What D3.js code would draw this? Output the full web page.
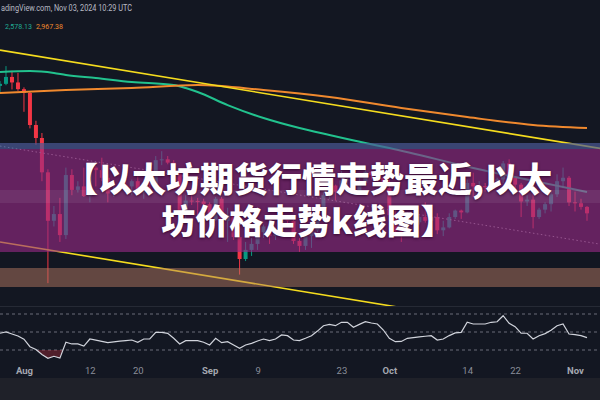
<!DOCTYPE html>
<html><head><meta charset="utf-8">
<script src="https://cdn.jsdelivr.net/npm/d3@7"></script>
<style>html,body{margin:0;padding:0;background:#131722;overflow:hidden}
body{position:relative;width:600px;height:400px}
#c{position:absolute;left:0;top:0}</style>
</head><body><svg id="c" width="600" height="400"></svg>
<script>
// ---------- data ----------
const candleDates = [
"2024-07-28","2024-07-29","2024-07-30","2024-07-31",
"2024-08-01","2024-08-02","2024-08-03","2024-08-04","2024-08-05","2024-08-06","2024-08-07","2024-08-08","2024-08-09","2024-08-10",
"2024-08-11","2024-08-12","2024-08-13","2024-08-14","2024-08-15","2024-08-16","2024-08-17","2024-08-18","2024-08-19","2024-08-20",
"2024-08-21","2024-08-22","2024-08-23","2024-08-24","2024-08-25","2024-08-26","2024-08-27","2024-08-28","2024-08-29","2024-08-30","2024-08-31",
"2024-09-01","2024-09-02","2024-09-03","2024-09-04","2024-09-05","2024-09-06","2024-09-07","2024-09-08","2024-09-09","2024-09-10",
"2024-09-11","2024-09-12","2024-09-13","2024-09-14","2024-09-15","2024-09-16","2024-09-17","2024-09-18","2024-09-19","2024-09-20",
"2024-09-21","2024-09-22","2024-09-23","2024-09-24","2024-09-25","2024-09-26","2024-09-27","2024-09-28","2024-09-29","2024-09-30",
"2024-10-01","2024-10-02","2024-10-03","2024-10-04","2024-10-05","2024-10-06","2024-10-07","2024-10-08","2024-10-09","2024-10-10",
"2024-10-11","2024-10-12","2024-10-13","2024-10-14","2024-10-15","2024-10-16","2024-10-17","2024-10-18","2024-10-19","2024-10-20",
"2024-10-21","2024-10-22","2024-10-23","2024-10-24","2024-10-25","2024-10-26","2024-10-27","2024-10-28","2024-10-29","2024-10-30","2024-10-31",
"2024-11-01","2024-11-02","2024-11-03"];
const opens = [3255,3270,3320,3280, 3232,3205,2987,2903,2692,2420,2456,2345,2676,2590, 2610,2555,2720,2705,2660,2570,2590,2615,2610,2640,
 2575,2630,2620,2765,2770,2750,2685,2460,2530,2528,2525, 2510,2425,2540,2420,2450,2335,2225,2270,2300,2360, 2390,2340,2360,2440,2420,2315,2290,2340,2370,2460,
 2560,2615,2580,2645,2650,2580,2630,2695,2675,2660, 2600,2450,2365,2350,2415,2412,2440,2420,2440,2370, 2385,2440,2475,2465,2630,2610,2612,2605,2645,2650,
 2745,2665,2620,2525,2535,2440,2480,2510,2565,2640,2660, 2520,2515,2495];
const highs = [3290,3400,3365,3350, 3245,3215,3015,2935,2710,2500,2545,2720,2710,2640, 2720,2740,2730,2780,2680,2620,2630,2690,2650,2690,
 2650,2645,2790,2820,2790,2765,2710,2560,2600,2545,2540, 2520,2550,2550,2490,2460,2390,2310,2330,2380,2400, 2395,2385,2460,2450,2430,2330,2390,2380,2480,2580,
 2620,2620,2700,2670,2670,2660,2725,2700,2680,2670, 2650,2500,2400,2420,2430,2450,2520,2470,2460,2420, 2460,2480,2480,2650,2690,2640,2630,2650,2660,2760,
 2770,2670,2630,2560,2570,2490,2520,2580,2680,2720,2670, 2580,2540,2500];
const lows = [3205,3260,3230,3220, 3075,2965,2860,2640,2110,2390,2310,2325,2560,2575, 2550,2520,2610,2640,2520,2550,2580,2605,2560,2560,
 2540,2590,2615,2735,2740,2670,2400,2420,2505,2440,2500, 2400,2420,2410,2310,2320,2150,2215,2240,2270,2330, 2300,2320,2350,2390,2300,2260,2270,2280,2360,2450,
 2540,2530,2570,2590,2570,2560,2620,2650,2640,2580, 2420,2350,2310,2340,2400,2400,2410,2400,2350,2340, 2380,2430,2430,2460,2550,2580,2580,2600,2630,2630,
 2640,2600,2440,2500,2380,2430,2460,2470,2550,2600,2500, 2470,2480,2420];
const closes = [3270,3320,3280,3232, 3205,2987,2903,2692,2420,2456,2345,2676,2590,2610, 2555,2720,2705,2660,2570,2590,2615,2610,2640,2575,
 2630,2620,2765,2770,2750,2685,2460,2530,2528,2525,2510, 2425,2540,2420,2450,2335,2225,2270,2300,2360,2390, 2340,2360,2440,2420,2315,2290,2340,2370,2460,2560,
 2615,2580,2645,2650,2580,2630,2695,2675,2660,2600, 2450,2365,2350,2415,2412,2440,2420,2440,2370,2385, 2440,2475,2465,2630,2610,2612,2605,2645,2650,2745,
 2665,2620,2525,2535,2440,2480,2510,2565,2640,2660,2520, 2515,2495,2460];

const greenMaDates  = ["2024-07-28","2024-08-02","2024-08-06","2024-08-08","2024-08-13","2024-08-19","2024-08-26","2024-08-28","2024-08-30","2024-09-04","2024-09-10","2024-09-16","2024-09-21","2024-09-27","2024-10-01","2024-10-15","2024-11-03"];
const greenMaValues = [3356,3363,3349,3334,3312,3283,3261,3240,3212,3121,3033,2967,2922,2871,2840,2718,2578.13];
const orangeMaDates  = ["2024-07-28","2024-08-08","2024-08-19","2024-08-30","2024-09-10","2024-09-21","2024-10-03","2024-10-14","2024-10-25","2024-11-03"];
const orangeMaValues = [3205,3226,3240,3261,3226,3177,3101,3040,2987,2967.38];

const trendDates  = ["2024-07-28","2024-11-08"];
const upperTrend  = [3522,2820];
const middleTrend = [2852,2285];
const lowerTrend  = [2310,1850];

const rsiValues = [48.6,50.2,47.8,45.5,42,33.7,30.5,25,20.8,23,21,38.6,36.7,36.7,34.4,42.2,41,39.5,38.1,39,39.8,40.5,41.1,38.6,42.2,42.2,
 49.6,49.6,48.5,43,36.7,40.4,40.4,40.4,38.6,35.6,43,38.1,39.2,35.5,31.9,35.6,37.4,40,42.2,40.4,42.2,46.7,45.9,41.1,40.4,43,45.9,51,57,58.5,
 57,60.8,60.8,55.2,58.5,61.4,60,58.9,52.2,43,39.2,39.5,43,43.7,44.5,45.3,45.9,41.1,42.2,46,49,49.6,60.8,58.9,58.9,58.9,60.8,61.4,68.1,
 59.7,55.9,48.6,48.6,42.2,45.9,48.2,52,57,58.9,47.8,47,45.9,43.7];
const rsiLevels = [70,50,30];

const tickDates  = ["2024-08-01","2024-08-12","2024-08-20","2024-09-01","2024-09-09","2024-09-23","2024-10-01","2024-10-14","2024-10-22","2024-11-01"];
const tickLabels = ["Aug","12","20","Sep","9","23","Oct","14","22","Nov"];

const headerText = "adingView.com, Nov 03, 2024 10:29 UTC";
const legendValues = ["2,578.13","2,967.38"];
const titleLines = ["【以太坊期货行情走势最近,以太","坊价格走势k线图】"];

// ---------- drawing ----------
const svg = d3.select("#c");
const parse = d3.utcParse("%Y-%m-%d");
const x = d3.scaleUtc().domain([parse("2024-07-28"), parse("2024-11-03")]).range([0, 587]);
const y = d3.scaleLog().domain([2000, 3600]).range([307.5, 40.1]);
const yR = d3.scaleLinear().domain([30, 70]).range([350, 314]);

const GREEN = "#089981", RED = "#f23645";

svg.append("rect").attr("width", 600).attr("height", 400).attr("fill", "#131722");
svg.append("rect").attr("x", 0).attr("y", 378).attr("width", 600).attr("height", 22).attr("fill", "#1f2129");

const defs = svg.append("defs");
defs.append("clipPath").attr("id", "pane").append("rect").attr("x", 0).attr("y", 0).attr("width", 600).attr("height", 306);
defs.append("clipPath").attr("id", "below30").append("rect").attr("x", 0).attr("y", yR(30)).attr("width", 600).attr("height", 40);

const pane = svg.append("g").attr("clip-path", "url(#pane)");

// candles
const candles = candleDates.map((d, i) => ({ d: parse(d), o: opens[i], h: highs[i], l: lows[i], c: closes[i] }));
const cg = pane.append("g");
cg.selectAll("line.w").data(candles).join("line")
  .attr("x1", d => x(d.d)).attr("x2", d => x(d.d))
  .attr("y1", d => y(d.h)).attr("y2", d => y(d.l))
  .attr("stroke", d => d.c >= d.o ? GREEN : RED).attr("stroke-width", 1);
cg.selectAll("rect.b").data(candles).join("rect")
  .attr("x", d => x(d.d) - 2).attr("width", 4)
  .attr("y", d => y(Math.max(d.o, d.c)))
  .attr("height", d => Math.max(1, Math.abs(y(d.o) - y(d.c))))
  .attr("fill", d => d.c >= d.o ? GREEN : RED);

// moving averages
const line = d3.line().x(d => x(d[0])).y(d => y(d[1])).curve(d3.curveMonotoneX);
pane.append("path").datum(greenMaDates.map((d, i) => [parse(d), greenMaValues[i]]))
  .attr("d", line).attr("fill", "none").attr("stroke", "#22c28e").attr("stroke-width", 2);
pane.append("path").datum(orangeMaDates.map((d, i) => [parse(d), orangeMaValues[i]]))
  .attr("d", line).attr("fill", "none").attr("stroke", "#f0892e").attr("stroke-width", 2);

// channel trend lines
const tline = d3.line().x(d => x(d[0])).y(d => y(d[1]));
pane.append("path").datum(trendDates.map((d, i) => [parse(d), middleTrend[i]]))
  .attr("d", tline).attr("fill", "none").attr("stroke", "#9598a1").attr("stroke-width", 1).attr("stroke-dasharray", "1.5,2.5");
[upperTrend, lowerTrend].forEach(arr => {
  pane.append("path").datum(trendDates.map((d, i) => [parse(d), arr[i]]))
    .attr("d", tline).attr("fill", "none").attr("stroke", "#f5dc1e").attr("stroke-width", 1.6);
});

// legend
svg.append("text").attr("x", 1).attr("y", 11).attr("textLength", 131).attr("lengthAdjust", "spacingAndGlyphs")
  .attr("font-family", "Roboto, 'Liberation Sans', sans-serif").attr("font-size", 8.5).attr("fill", "#b8bbc4").text(headerText);
svg.append("text").attr("x", 5).attr("y", 28.5).attr("textLength", 27).attr("lengthAdjust", "spacingAndGlyphs")
  .attr("font-family", "Roboto, sans-serif").attr("font-size", 8)
  .attr("fill", "#22ab94").text(legendValues[0]);
svg.append("text").attr("x", 36).attr("y", 28.5).attr("textLength", 27).attr("lengthAdjust", "spacingAndGlyphs")
  .attr("font-family", "Roboto, sans-serif").attr("font-size", 8)
  .attr("fill", "#f0892e").text(legendValues[1]);

// pane divider
svg.append("line").attr("x1", 0).attr("x2", 600).attr("y1", 306.5).attr("y2", 306.5).attr("stroke", "#262a35");

// banner overlays
const ov = svg.append("g");
ov.append("rect").attr("x", 0).attr("y", 143).attr("width", 600).attr("height", 6).attr("fill", "rgb(75,90,150)").attr("opacity", 0.7);
ov.append("rect").attr("x", 0).attr("y", 149).attr("width", 600).attr("height", 103).attr("fill", "rgb(150,42,132)").attr("opacity", 0.62);
ov.append("rect").attr("x", 0).attr("y", 190).attr("width", 600).attr("height", 13).attr("fill", "#ffffff").attr("opacity", 0.07);
ov.append("rect").attr("x", 0).attr("y", 268).attr("width", 600).attr("height", 19).attr("fill", "rgb(180,120,95)").attr("opacity", 0.5);

// RSI pane
const rg = svg.append("g");
rg.selectAll("line.lv").data(rsiLevels).join("line")
  .attr("x1", 0).attr("x2", 600).attr("y1", d => yR(d)).attr("y2", d => yR(d))
  .attr("stroke", "#6a6d78").attr("stroke-width", 1).attr("stroke-dasharray", "3,3");
const rsiPts = candleDates.map((d, i) => [parse(d), rsiValues[i]]);
rg.append("path").datum(rsiPts).attr("clip-path", "url(#below30)")
  .attr("d", d3.area().x(d => x(d[0])).y0(yR(30)).y1(d => yR(d[1])))
  .attr("fill", "rgba(242,54,69,0.28)");
rg.append("path").datum(rsiPts)
  .attr("d", d3.line().x(d => x(d[0])).y(d => yR(d[1])))
  .attr("fill", "none").attr("stroke", "#d1d4dc").attr("stroke-width", 1.2);

// time axis
const axis = d3.axisBottom(x).tickValues(tickDates.map(parse)).tickFormat((d, i) => tickLabels[i]).tickSize(0).tickPadding(3);
const ag = svg.append("g").attr("transform", "translate(0,364)").call(axis);
ag.select(".domain").remove();
ag.selectAll("text").attr("font-family", "Roboto, 'Liberation Sans', sans-serif").attr("font-size", 9.5)
  .attr("fill", (d, i) => isNaN(+tickLabels[i]) ? "#a4a7b0" : "#8a8e99")
  .attr("font-weight", (d, i) => isNaN(+tickLabels[i]) ? 700 : 400);

// title: one block of text, two lines, 42px line pitch
d3.select("body").append("div")
  .style("position", "absolute").style("left", "8px").style("top", "157px").style("width", "600px")
  .style("text-align", "center").style("white-space", "pre-line")
  .style("font-family", "'Noto Sans CJK SC', sans-serif").style("font-weight", "900")
  .style("font-size", "34px").style("line-height", "42px").style("color", "#ffffff")
  .style("text-shadow", "0 1px 3px rgba(42,0,37,0.85)")
  .text(titleLines.join("\n"));
</script>
</body></html>
